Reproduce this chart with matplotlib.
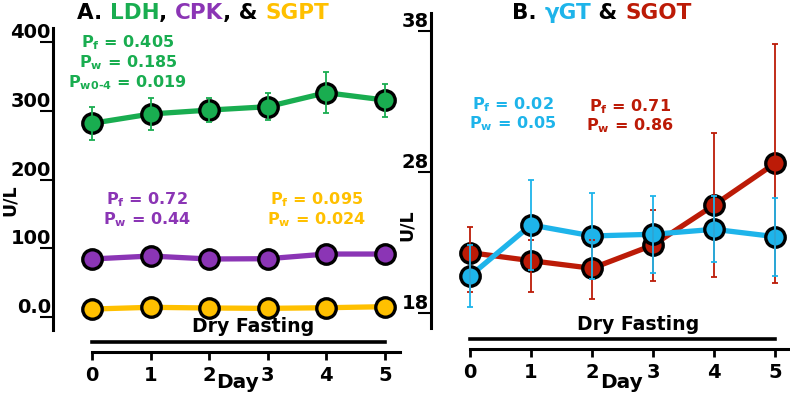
import matplotlib
matplotlib.use('Agg')
import matplotlib.pyplot as plt
from matplotlib.transforms import IdentityTransform

plt.rcParams['font.family'] = ['DejaVu Sans']
plt.rcParams['font.weight'] = 'bold'
plt.rcParams['mathtext.fontset'] = 'custom'
plt.rcParams['mathtext.bf'] = 'DejaVu Sans:bold'
plt.rcParams['mathtext.rm'] = 'DejaVu Sans:bold'
plt.rcParams['mathtext.default'] = 'bf'

# ---------------- data ----------------
days = [0, 1, 2, 3, 4, 5]
day_labels = ['0', '1', '2', '3', '4', '5']

ldh = [281.7, 295.3, 301.0, 305.9, 326.3, 315.6]
ldh_err = [24, 23, 18, 20, 30, 24]
cpk = [84.4, 88.7, 84.4, 84.8, 91.6, 91.6]
cpk_err = [3, 3, 3, 3, 5, 6]
sgpt = [11.6, 14.1, 13.1, 12.6, 13.5, 15.0]
sgpt_err = [1, 1, 1, 1, 1, 1]

ggt = [20.64, 24.25, 23.47, 23.59, 23.94, 23.42]
ggt_err = [2.18, 3.17, 3.03, 2.71, 2.34, 2.76]
sgot = [22.29, 21.72, 21.18, 22.83, 25.66, 28.62]
sgot_err_lo = [2.76, 2.19, 2.17, 2.55, 5.07, 8.46]
sgot_err_hi = [1.84, 1.46, 2.00, 2.48, 5.07, 8.46]

a_yticks = [0, 100, 200, 300, 400]
a_yticklabels = ['0.0', '100', '200', '300', '400']
b_yticks = [18, 28, 38]
b_yticklabels = ['18', '28', '38']

GREEN = '#19AD50'
PURPLE = '#8B35B5'
YELLOW = '#FFC000'
BLUE = '#1EB4EA'
RED = '#BC1B07'

W, H = 790, 397
fig = plt.figure(figsize=(W / 100, H / 100), dpi=100)


def px_axes(l, r, t, b):
    return fig.add_axes([l / W, 1 - b / H, (r - l) / W, (b - t) / H])


def series(ax, y, lo, hi, color):
    ax.plot(days, y, color=color, lw=3.8, marker='o', ms=14, mfc=color,
            mec='black', mew=2.4, zorder=3, clip_on=False)
    ax.errorbar(days, y, yerr=[lo, hi], fmt='none', ecolor=color,
                elinewidth=1.3, capsize=2, capthick=1.3, zorder=4, clip_on=False)


def style(ax, xlim, ylim, ybounds, yticks, yticklabels):
    ax.set_xlim(*xlim)
    ax.set_ylim(*ylim)
    for s in ['top', 'right']:
        ax.spines[s].set_visible(False)
    ax.spines['left'].set_bounds(*ybounds)
    ax.spines['bottom'].set_bounds(0, xlim[1])
    for s in ['left', 'bottom']:
        ax.spines[s].set_linewidth(2.2)
    ax.set_xticks(days)
    ax.set_xticklabels(day_labels)
    ax.set_yticks(yticks)
    ax.set_yticklabels(yticklabels)
    ax.tick_params(axis='x', direction='out', length=6, width=2, pad=4, labelsize=14)
    ax.tick_params(axis='y', direction='out', length=9.5, width=1.5, pad=-8, labelsize=14)
    for lbl in ax.get_yticklabels():
        lbl.set_va('bottom')
    ax.patch.set_alpha(0)


# ---------------- panel A ----------------
axA = px_axes(53, 400, 28, 352)
series(axA, sgpt, sgpt_err, sgpt_err, YELLOW)
series(axA, cpk, cpk_err, cpk_err, PURPLE)
series(axA, ldh, ldh_err, ldh_err, GREEN)
style(axA, (-0.666, 5.26), (-50.9, 420.4), (-18.9, 420.4), a_yticks, a_yticklabels)
axA.plot([0, 5], [-36.4, -36.4], color='black', lw=2.6, clip_on=False)
axA.text(2.75, -14.5, 'Dry Fasting', ha='center', va='center', fontsize=13.6,
         fontweight='bold')

# ---------------- panel B ----------------
axB = px_axes(430.7, 788, 12.7, 349)
series(axB, sgot, sgot_err_lo, sgot_err_hi, RED)
series(axB, ggt, ggt_err, ggt_err, BLUE)
style(axB, (-0.644, 5.21), (15.47, 39.27), (16.94, 39.27), b_yticks, b_yticklabels)
axB.plot([0, 5], [16.16, 16.16], color='black', lw=2.6, clip_on=False)
axB.text(2.75, 17.17, 'Dry Fasting', ha='center', va='center', fontsize=13.6,
         fontweight='bold')


def ptext(x, y, lines, color, size=11.5):
    for s, yy in zip(lines, y):
        fig.text(x / W, 1 - yy / H, s, color=color, fontsize=size,
                 fontweight='bold', ha='center', va='center')


ptext(128, [43, 63, 83], [r'P$_{f}$ = 0.405', r'P$_{w}$ = 0.185', r'P$_{w0‐4}$ = 0.019'], GREEN)
ptext(147, [200, 220], [r'P$_{f}$ = 0.72', r'P$_{w}$ = 0.44'], PURPLE)
ptext(317, [200, 220], [r'P$_{f}$ = 0.095', r'P$_{w}$ = 0.024'], YELLOW)
ptext(513, [105, 124], [r'P$_{f}$ = 0.02', r'P$_{w}$ = 0.05'], BLUE)
ptext(630, [107, 126], [r'P$_{f}$ = 0.71', r'P$_{w}$ = 0.86'], RED)

# axis labels
fig.text(10 / W, 1 - 200 / H, 'U/L', rotation=90, ha='center', va='center',
         fontsize=12.5, fontweight='bold')
fig.text(407 / W, 1 - 225 / H, 'U/L', rotation=90, ha='center', va='center',
         fontsize=12.5, fontweight='bold')
fig.text(237 / W, 1 - 382 / H, 'Day', ha='center', va='center', fontsize=14.5,
         fontweight='bold')
fig.text(621 / W, 1 - 382 / H, 'Day', ha='center', va='center', fontsize=14.5,
         fontweight='bold')

# multicolour titles
renderer = fig.canvas.get_renderer()


def tw(s, size):
    t = fig.text(0, 0, s, fontsize=size, fontweight='bold')
    w = t.get_window_extent(renderer).width
    t.remove()
    return w


def multicolor(pieces, cx, cy, size=15.5):
    full = ''.join(p for p, _ in pieces)
    total = tw(full, size)
    bar = tw('|', size)
    x0 = cx - total / 2
    prefix = ''
    for s, c in pieces:
        off = tw(prefix + '|', size) - bar if prefix else 0
        fig.text(x0 + off, H - cy, s, color=c, fontsize=size, fontweight='bold',
                 ha='left', va='center', transform=IdentityTransform())
        prefix += s


multicolor([('A. ', 'black'), ('LDH', GREEN), (', ', 'black'), ('CPK', PURPLE),
            (', & ', 'black'), ('SGPT', YELLOW)], 203, 13)
multicolor([('B. ', 'black'), ('γGT', BLUE), (' & ', 'black'), ('SGOT', RED)], 602, 13)

fig.savefig('out.png', dpi=100)
